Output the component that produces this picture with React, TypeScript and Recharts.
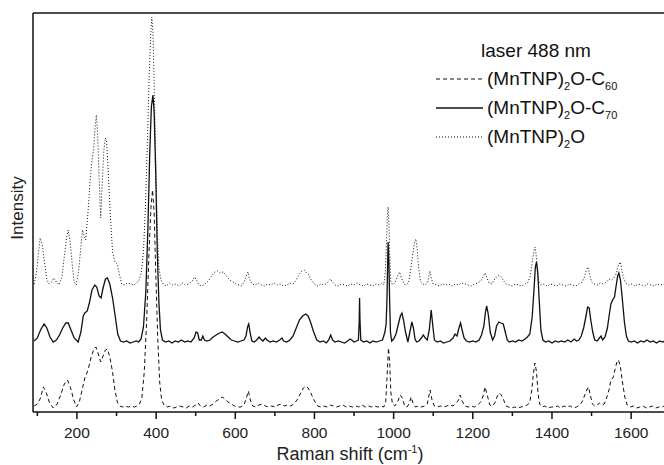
import { LineChart, Line, XAxis, YAxis, ReferenceLine } from "recharts";

// Raman shift (cm-1), intensity (offset, arbitrary units)
const c60Spectrum: [number, number][] = [
  [92,6],[100,8],[108,14],[115,25],[122,20],[130,10],[140,4],[150,8],[160,18],[168,28],[176,32],[184,24],[192,12],[199,5],
  [206,10],[213,22],[220,34],[228,42],[236,55],[243,63],[248,65],[254,58],[260,50],[266,56],[272,62],[277,63],[283,55],
  [290,40],[296,22],[302,10],[308,6],[315,5],[322,6],[330,5],[338,6],[345,5],[352,6],[358,8],[364,14],[370,40],[376,90],
  [382,160],[387,205],[391,222],[395,200],[399,140],[404,75],[409,30],[414,12],[420,7],[428,5],[436,6],[444,4],[452,5],
  [460,6],[468,5],[476,4],[484,6],[492,5],[500,7],[506,9],[512,6],[520,5],[528,7],[536,6],[544,8],[552,11],[560,13],
  [567,15],[574,13],[582,10],[590,8],[598,6],[606,5],[614,5],[622,7],[628,14],[633,21],[638,12],[644,6],[652,5],[660,7],
  [668,8],[676,6],[684,5],[692,6],[700,5],[708,7],[716,8],[724,6],[732,7],[740,6],[748,8],[756,12],[764,18],[772,24],
  [778,26],[784,24],[792,18],[800,11],[808,6],[816,5],[824,6],[832,5],[840,7],[848,6],[856,5],[864,6],[872,7],[880,5],
  [888,6],[896,5],[904,6],[912,5],[920,7],[928,5],[936,6],[944,5],[952,6],[960,5],[968,6],[975,5],[980,10],[984,40],
  [987,64],[990,50],[993,20],[997,8],[1003,6],[1010,10],[1017,17],[1022,14],[1028,6],[1034,5],[1040,9],[1044,15],
  [1049,9],[1055,5],[1062,6],[1070,5],[1078,6],[1085,8],[1092,22],[1097,12],[1103,6],[1110,5],[1118,6],[1126,5],
  [1134,6],[1142,7],[1150,6],[1158,9],[1164,12],[1168,17],[1173,11],[1180,6],[1188,5],[1196,6],[1204,5],[1212,7],
  [1220,10],[1226,16],[1231,25],[1237,16],[1243,7],[1250,6],[1257,10],[1262,16],[1267,19],[1272,17],[1278,12],[1284,6],
  [1290,5],[1298,4],[1306,5],[1314,4],[1322,5],[1330,6],[1338,7],[1344,10],[1349,22],[1353,38],[1357,49],[1361,40],
  [1365,18],[1369,8],[1375,5],[1382,6],[1390,4],[1398,5],[1406,5],[1414,6],[1422,4],[1430,6],[1438,5],[1446,6],
  [1454,4],[1462,5],[1470,7],[1476,10],[1482,16],[1488,22],[1492,25],[1497,17],[1502,8],[1508,6],[1515,7],[1520,9],
  [1526,7],[1532,8],[1538,14],[1544,22],[1549,32],[1554,34],[1559,42],[1564,50],[1568,52],[1573,45],[1578,30],[1584,15],
  [1590,7],[1598,5],[1606,6],[1614,4],[1622,5],[1630,6],[1638,4],[1646,5],[1654,6],[1662,4],[1670,5],[1678,5],[1684,6],
];

const c70Spectrum: [number, number][] = [
  [92,71],[100,74],[108,82],[117,88],[124,84],[132,75],[140,70],[148,72],[156,77],[164,84],[172,89],[178,89],[185,82],
  [193,74],[203,70],[210,80],[216,96],[220,99],[226,101],[232,110],[238,122],[245,127],[250,125],[256,116],[261,114],
  [266,124],[272,133],[277,134],[283,128],[290,114],[297,95],[303,78],[310,71],[318,70],[326,71],[334,69],[342,70],
  [350,71],[356,70],[362,73],[368,85],[374,120],[379,180],[384,260],[388,305],[392,317],[395,300],[399,240],[403,160],
  [407,110],[411,82],[416,72],[424,70],[432,71],[440,69],[448,71],[456,70],[464,72],[472,70],[480,71],[488,70],[496,74],
  [501,80],[505,79],[509,72],[514,72],[518,76],[522,72],[528,71],[536,72],[544,75],[552,77],[560,79],[567,80],[574,78],
  [582,75],[590,72],[598,71],[606,70],[614,71],[622,72],[627,76],[631,85],[634,88],[638,78],[642,71],[648,70],[654,72],
  [660,75],[664,73],[670,71],[676,74],[680,72],[688,70],[696,71],[704,70],[712,72],[718,74],[722,71],[730,70],[738,72],
  [746,76],[754,84],[762,92],[770,96],[778,98],[784,96],[790,90],[798,80],[806,72],[814,70],[822,71],[830,69],[836,72],
  [841,77],[846,72],[852,70],[860,71],[868,70],[876,69],[884,71],[890,73],[894,72],[900,70],[906,71],[911,72],[913,90],
  [914,114],[915,92],[917,72],[924,70],[932,71],[940,69],[948,71],[956,70],[964,71],[972,72],[978,80],[981,88],[983,110],
  [985,150],[986,170],[988,150],[990,110],[992,80],[995,71],[1000,73],[1006,78],[1012,88],[1017,96],[1021,99],[1025,92],
  [1030,80],[1036,70],[1041,80],[1046,90],[1050,84],[1054,73],[1058,70],[1064,71],[1070,74],[1075,77],[1080,74],
  [1085,72],[1090,82],[1095,102],[1099,86],[1103,72],[1110,70],[1118,71],[1126,69],[1134,70],[1142,71],[1150,74],
  [1155,78],[1160,76],[1165,84],[1169,89],[1173,82],[1178,74],[1184,71],[1192,70],[1200,71],[1208,70],[1216,72],
  [1222,77],[1228,86],[1232,100],[1235,106],[1239,98],[1244,80],[1250,72],[1255,76],[1260,86],[1266,90],[1271,89],
  [1277,88],[1282,80],[1287,72],[1292,70],[1300,71],[1308,70],[1316,72],[1324,71],[1332,73],[1338,75],[1344,78],
  [1350,95],[1355,125],[1358,145],[1361,150],[1364,140],[1368,110],[1372,82],[1377,72],[1384,70],[1392,71],[1400,69],
  [1408,71],[1416,70],[1424,71],[1432,70],[1440,72],[1448,70],[1456,73],[1462,71],[1468,72],[1474,76],[1480,84],
  [1486,96],[1490,105],[1494,104],[1498,92],[1503,80],[1508,72],[1514,71],[1520,74],[1524,76],[1528,72],[1534,75],
  [1540,84],[1545,98],[1549,108],[1553,112],[1558,115],[1562,126],[1566,136],[1569,139],[1573,132],[1578,112],
  [1583,90],[1588,76],[1593,71],[1600,70],[1608,71],[1616,69],[1624,71],[1632,70],[1640,72],[1648,70],[1656,71],
  [1664,69],[1672,71],[1680,70],[1684,71],
];

const porphyrinSpectrum: [number, number][] = [
  [92,128],[98,140],[103,160],[107,174],[112,168],[118,150],[124,132],[130,128],[136,130],[142,134],[148,130],[155,127],
  [162,135],[168,155],[174,175],[178,182],[183,170],[188,148],[193,130],[198,127],[204,140],[210,165],[214,182],[218,176],
  [222,172],[228,200],[234,235],[238,252],[242,262],[246,285],[249,297],[252,280],[256,235],[260,194],[264,230],[268,262],
  [272,274],[275,270],[279,240],[284,200],[290,160],[296,150],[302,148],[307,138],[313,128],[320,127],[328,129],[336,128],
  [344,127],[350,129],[356,131],[362,138],[368,160],[373,205],[378,270],[382,330],[386,375],[389,395],[392,380],[395,330],
  [399,250],[403,180],[407,145],[412,132],[418,128],[426,126],[434,129],[442,127],[450,128],[458,126],[466,129],[474,127],
  [482,128],[490,130],[497,135],[502,132],[508,127],[516,126],[524,128],[532,131],[540,136],[548,140],[555,141],[562,139],
  [570,140],[578,136],[586,132],[594,130],[602,128],[610,127],[616,126],[622,130],[628,136],[632,140],[636,133],[642,128],
  [650,127],[658,129],[666,127],[674,126],[682,128],[690,127],[698,129],[706,127],[714,128],[722,126],[730,127],[738,129],
  [746,128],[754,132],[762,138],[768,141],[774,142],[780,139],[786,137],[792,132],[800,128],[808,126],[816,128],[824,127],
  [832,129],[840,133],[846,130],[852,127],[860,126],[868,128],[876,127],[884,126],[892,128],[900,127],[908,129],[916,127],
  [924,126],[932,128],[940,127],[948,126],[956,128],[964,127],[970,129],[975,127],[979,140],[982,170],[984,195],[986,205],
  [988,190],[990,160],[993,130],[998,127],[1004,130],[1010,136],[1015,140],[1020,134],[1026,128],[1032,127],[1038,130],
  [1044,145],[1049,160],[1053,170],[1056,173],[1059,165],[1063,145],[1068,130],[1074,128],[1080,127],[1086,130],
  [1090,138],[1092,141],[1095,134],[1100,128],[1108,127],[1116,126],[1124,128],[1132,127],[1140,128],[1148,126],
  [1156,128],[1164,127],[1172,129],[1180,128],[1188,127],[1196,126],[1204,128],[1212,129],[1220,131],[1226,135],
  [1231,139],[1236,134],[1241,129],[1248,128],[1254,132],[1260,135],[1266,137],[1272,135],[1278,131],[1284,128],
  [1292,127],[1300,126],[1308,128],[1316,127],[1324,126],[1332,128],[1340,130],[1346,138],[1350,150],[1354,160],
  [1357,165],[1360,158],[1363,140],[1367,130],[1372,127],[1380,128],[1388,126],[1396,128],[1404,127],[1412,126],
  [1420,128],[1428,127],[1436,126],[1444,128],[1452,127],[1460,126],[1468,128],[1476,130],[1482,135],[1487,142],
  [1491,145],[1495,138],[1500,130],[1506,128],[1514,127],[1522,129],[1530,128],[1538,130],[1544,133],[1550,132],
  [1556,134],[1562,138],[1566,145],[1570,148],[1573,150],[1576,143],[1580,135],[1586,129],[1594,127],[1602,128],
  [1610,126],[1618,128],[1626,127],[1634,126],[1642,128],[1650,127],[1658,126],[1666,128],[1674,127],[1684,128],
];

const shiftTicks = [100, 200, 300, 400, 500, 600, 700, 800, 900, 1000, 1100, 1200, 1300, 1400, 1500, 1600];

const toPoints = (spec: [number, number][]) => spec.map(([x, y]) => ({ x, y }));

const FONT = '"Liberation Sans", Arial, sans-serif';
const INK = "#111";

function ShiftTick({ x, y, payload }: any) {
  const major = payload.value % 200 === 0;
  return (
    <g>
      <line x1={x} x2={x} y1={y} y2={y + (major ? 7 : 4)} stroke={INK} strokeWidth={1.5} />
      {major && (
        <text x={x} y={y + 26} textAnchor="middle" fontSize={15.5} fontFamily={FONT} fill="#222">
          {payload.value}
        </text>
      )}
    </g>
  );
}

function ShiftTitle() {
  return (
    <text x={350} y={460} textAnchor="middle" fontSize={18} fontFamily={FONT} fill="#222">
      Raman shift (cm
      <tspan dy={-7} fontSize={11} fill="#222">-1</tspan>
      <tspan dy={7} fill="#222">)</tspan>
    </text>
  );
}

function IntensityTitle() {
  return (
    <text x={23} y={208} transform="rotate(-90 23 208)" textAnchor="middle" fontSize={17} fontFamily={FONT} fill="#222">
      Intensity
    </text>
  );
}

function Sample({ name, sub, tail, tailSub, dash, width, y }: any) {
  return (
    <g>
      <line x1={436} x2={483} y1={y - 6} y2={y - 6} stroke={INK} strokeWidth={width} strokeDasharray={dash} />
      <text x={487} y={y} fontSize={19} fontFamily={FONT} fill="#111">
        {name}
        <tspan dy={5} fontSize={11} fill="#111">{sub}</tspan>
        <tspan dy={-5} fill="#111">{tail}</tspan>
        {tailSub && <tspan dy={5} fontSize={11} fill="#111">{tailSub}</tspan>}
      </text>
    </g>
  );
}

export default function App() {
  return (
    <div style={{ position: "absolute", left: 0, top: 0, width: 664, height: 465, background: "#fff" }}>
      <LineChart width={664} height={465} margin={{ top: 13, right: 0, bottom: 0, left: 0 }}>
        <XAxis
          type="number"
          dataKey="x"
          domain={[89, 1683]}
          allowDataOverflow
          ticks={shiftTicks}
          interval={0}
          tickSize={0}
          tickMargin={0}
          tickLine={false}
          tick={<ShiftTick />}
          axisLine={{ stroke: INK, strokeWidth: 1.5 }}
          height={53}
          label={<ShiftTitle />}
        />
        <YAxis
          type="number"
          domain={[0, 399]}
          allowDataOverflow
          tick={false}
          tickLine={false}
          axisLine={{ stroke: INK, strokeWidth: 1.5 }}
          width={33}
          label={<IntensityTitle />}
        />
        <ReferenceLine y={399} stroke={INK} strokeWidth={1.5} />
        <Line
          data={toPoints(c60Spectrum)}
          dataKey="y"
          type="linear"
          stroke={INK}
          strokeWidth={1}
          strokeDasharray="4 3"
          dot={false}
          isAnimationActive={false}
        />
        <Line
          data={toPoints(c70Spectrum)}
          dataKey="y"
          type="linear"
          stroke={INK}
          strokeWidth={1.3}
          dot={false}
          isAnimationActive={false}
        />
        <Line
          data={toPoints(porphyrinSpectrum)}
          dataKey="y"
          type="linear"
          stroke={INK}
          strokeWidth={1}
          strokeDasharray="1 2"
          dot={false}
          isAnimationActive={false}
        />
      </LineChart>
      <svg width={664} height={465} style={{ position: "absolute", left: 0, top: 0, pointerEvents: "none" }}>
        <text x={536} y={57} textAnchor="middle" fontSize={19} fontFamily={FONT} fill="#111">
          laser 488 nm
        </text>
        <Sample name="(MnTNP)" sub="2" tail="O-C" tailSub="60" dash="4 3" width={1} y={85} />
        <Sample name="(MnTNP)" sub="2" tail="O-C" tailSub="70" width={1.3} y={114} />
        <Sample name="(MnTNP)" sub="2" tail="O" dash="1 2" width={1} y={143} />
      </svg>
    </div>
  );
}
